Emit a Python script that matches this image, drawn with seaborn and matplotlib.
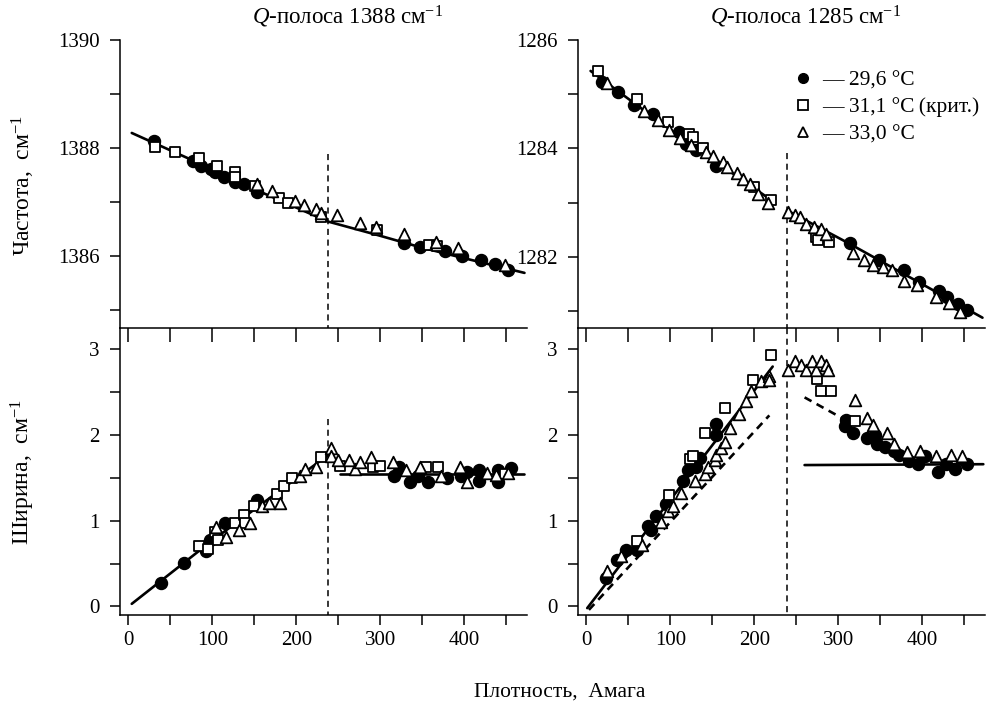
import matplotlib
matplotlib.use("Agg")
import matplotlib.pyplot as plt
import seaborn as sns
from matplotlib.lines import Line2D
from matplotlib.ticker import MultipleLocator

# ================= DATA =================
# --- top left: Q-band 1388, frequency ---
tl_circ_x = [31, 77, 86, 99, 103, 114, 127, 138, 153, 328, 348, 377, 398, 420, 437, 452]
tl_circ_y = [1388.14, 1387.76, 1387.67, 1387.61, 1387.55, 1387.47, 1387.38, 1387.33, 1387.19,
             1386.24, 1386.16, 1386.10, 1386.00, 1385.93, 1385.85, 1385.74]
tl_sq_x = [32, 55, 84, 105, 127, 127, 151, 179, 190, 230, 296, 358, 368]
tl_sq_y = [1388.02, 1387.93, 1387.82, 1387.67, 1387.56, 1387.47, 1387.30, 1387.08, 1386.98,
           1386.72, 1386.48, 1386.20, 1386.18]
tl_tri_x = [153, 171, 199, 209, 223, 230, 248, 276, 295, 329, 367, 393, 449]
tl_tri_y = [1387.33, 1387.21, 1387.02, 1386.94, 1386.87, 1386.80, 1386.77, 1386.62, 1386.54,
            1386.41, 1386.27, 1386.15, 1385.83]
tl_fit_x = [4, 77, 153, 238, 297, 349, 398, 472]
tl_fit_y = [1388.28, 1387.77, 1387.22, 1386.64, 1386.39, 1386.16, 1385.97, 1385.69]

# --- top right: Q-band 1285, frequency ---
tr_circ_x = [19, 38, 57, 79, 110, 119, 131, 155, 314, 349, 378, 396, 420, 430, 443, 454]
tr_circ_y = [1285.23, 1285.05, 1284.80, 1284.63, 1284.31, 1284.09, 1283.98, 1283.68,
             1282.25, 1281.95, 1281.76, 1281.54, 1281.38, 1281.27, 1281.14, 1281.03]
tr_sq_x = [14, 60, 97, 122, 127, 139, 200, 220, 274, 276, 289]
tr_sq_y = [1285.42, 1284.92, 1284.49, 1284.27, 1284.22, 1284.00, 1283.29, 1283.05,
           1282.37, 1282.31, 1282.28]
tr_tri_x = [25, 69, 85, 98, 111, 125, 143, 151, 163, 167, 179, 187, 195, 204, 216,
            240, 248, 254, 262, 271, 280, 286, 318, 331, 342, 354, 364, 379, 394, 417, 432, 445]
tr_tri_y = [1285.21, 1284.69, 1284.52, 1284.35, 1284.20, 1284.06, 1283.94, 1283.86, 1283.75,
            1283.65, 1283.54, 1283.43, 1283.34, 1283.17, 1282.99,
            1282.83, 1282.77, 1282.74, 1282.60, 1282.56, 1282.52, 1282.43, 1282.07, 1281.94,
            1281.85, 1281.81, 1281.76, 1281.56, 1281.48, 1281.27, 1281.16, 1280.99]
tr_fit1_x = [5, 110, 222]
tr_fit1_y = [1285.43, 1284.23, 1283.03]
tr_fit2_x = [239, 314, 472]
tr_fit2_y = [1282.86, 1282.24, 1280.88]

# --- bottom left: Q-band 1388, width ---
bl_circ_x = [39, 66, 92, 97, 115, 153, 317, 322, 335, 345, 357, 380, 396, 404, 418, 418, 441, 441, 456]
bl_circ_y = [0.27, 0.51, 0.65, 0.78, 0.97, 1.24, 1.52, 1.63, 1.45, 1.52, 1.45, 1.50, 1.52,
             1.57, 1.59, 1.46, 1.59, 1.45, 1.62]
bl_sq_x = [84, 95, 103, 107, 127, 138, 139, 150, 177, 185, 195, 230, 252, 291, 300, 355, 369, 449]
bl_sq_y = [0.71, 0.67, 0.87, 0.77, 0.97, 1.07, 0.97, 1.17, 1.31, 1.40, 1.50, 1.74, 1.64,
           1.63, 1.64, 1.63, 1.63, 1.54]
bl_tri_x = [104, 116, 132, 145, 159, 168, 181, 204, 210, 223, 241, 241, 250, 263, 270, 276,
            289, 315, 331, 347, 372, 395, 404, 427, 438, 452]
bl_tri_y = [0.93, 0.81, 0.89, 0.97, 1.17, 1.21, 1.21, 1.52, 1.60, 1.63, 1.85, 1.75, 1.71,
            1.71, 1.60, 1.68, 1.74, 1.68, 1.59, 1.63, 1.52, 1.63, 1.45, 1.56, 1.53, 1.56]
bl_fit1_x = [4, 100, 237]
bl_fit1_y = [0.03, 0.77, 1.76]
bl_fit2_x = [252, 472]
bl_fit2_y = [1.54, 1.54]

# --- bottom right: Q-band 1285, width ---
br_circ_x = [23, 37, 47, 60, 74, 77, 83, 95, 115, 121, 125, 131, 135, 155, 155,
             309, 308, 318, 334, 344, 346, 356, 366, 372, 384, 395, 403, 419, 429, 439, 453]
br_circ_y = [0.33, 0.54, 0.66, 0.66, 0.94, 0.89, 1.06, 1.19, 1.46, 1.59, 1.63, 1.63, 1.73,
             2.13, 2.00, 2.18, 2.11, 2.02, 1.97, 2.00, 1.90, 1.86, 1.81, 1.77, 1.70, 1.66,
             1.75, 1.57, 1.66, 1.60, 1.66]
br_sq_x = [60, 98, 123, 127, 141, 165, 199, 220, 275, 280, 291, 320]
br_sq_y = [0.76, 1.30, 1.72, 1.75, 2.02, 2.32, 2.64, 2.93, 2.66, 2.51, 2.52, 2.17]
br_tri_x = [24, 41, 66, 89, 97, 103, 113, 129, 141, 145, 153, 155, 161, 165, 171, 182, 190,
            196, 208, 218, 218, 240, 248, 256, 262, 269, 274, 280, 286, 288,
            320, 334, 342, 358, 366, 382, 397, 417, 435, 447]
br_tri_y = [0.41, 0.59, 0.72, 0.98, 1.11, 1.17, 1.32, 1.46, 1.55, 1.63, 1.71, 1.77, 1.85,
            1.92, 2.08, 2.25, 2.40, 2.51, 2.63, 2.69, 2.64, 2.76, 2.86, 2.82, 2.76, 2.87,
            2.76, 2.86, 2.82, 2.76, 2.41, 2.20, 2.12, 2.02, 1.90, 1.80, 1.81, 1.75, 1.77, 1.76]
br_fit1_x = [1, 222]
br_fit1_y = [-0.02, 2.80]
br_dash1_x = [3, 218]
br_dash1_y = [-0.04, 2.23]
br_dash2_x = [260, 308]
br_dash2_y = [2.44, 2.18]
br_fit2_x = [260, 473]
br_fit2_y = [1.65, 1.66]

crit_x = [237.5, 239.4]   # vertical dashed marker (critical density)

titles = ["$\\mathit{Q}$-полоса 1388 см$^{-1}$", "$\\mathit{Q}$-полоса 1285 см$^{-1}$"]
legend_labels = ["— 29,6 °C", "— 31,1 °C\u2009(крит.)", "— 33,0 °C"]
# ==============================================================

sns.set_theme(style="ticks")
plt.rcParams['font.family'] = ['Liberation Serif', 'DejaVu Serif']
plt.rcParams['mathtext.fontset'] = 'custom'
plt.rcParams['mathtext.rm'] = 'Liberation Serif'
plt.rcParams['mathtext.it'] = 'Liberation Serif:italic'
for key in ['text.color', 'axes.labelcolor', 'xtick.color', 'ytick.color', 'axes.edgecolor']:
    plt.rcParams[key] = 'black'

FS_TICK = 15
FS_TITLE = 16.5
FS_YLAB = 17
FS_XLAB = 15.5
FS_LEG = 15.5

fig = plt.figure(figsize=(10, 7.16), dpi=100)
ax_tl = fig.add_axes([0.120, 0.5419, 0.407, 0.4022])
ax_bl = fig.add_axes([0.120, 0.1411, 0.407, 0.4008])
ax_tr = fig.add_axes([0.578, 0.5419, 0.407, 0.4022])
ax_br = fig.add_axes([0.578, 0.1411, 0.407, 0.4008])


def points(ax, xs, ys, kind):
    if kind == 'circ':
        sns.scatterplot(x=xs, y=ys, ax=ax, marker='o', s=75, color='black',
                        edgecolor='black', linewidth=1.0, zorder=3)
    elif kind == 'sq':
        sns.scatterplot(x=xs, y=ys, ax=ax, marker='s', s=62, color='white',
                        edgecolor='black', linewidth=1.3, zorder=3)
    else:
        sns.scatterplot(x=xs, y=ys, ax=ax, marker='^', s=70, color='white',
                        edgecolor='black', linewidth=1.3, zorder=3)


def fit(ax, xs, ys, dashed=False):
    ls = (0, (3, 2.2)) if dashed else '-'
    sns.lineplot(x=xs, y=ys, ax=ax, color='black', lw=1.9, linestyle=ls,
                 sort=False, estimator=None, zorder=2)


# top left
fit(ax_tl, tl_fit_x, tl_fit_y)
points(ax_tl, tl_circ_x, tl_circ_y, 'circ')
points(ax_tl, tl_sq_x, tl_sq_y, 'sq')
points(ax_tl, tl_tri_x, tl_tri_y, 'tri')
ax_tl.plot([crit_x[0]] * 2, [1387.89, 1384.67], color='black', lw=1.1, ls=(0, (4, 3)))
ax_tl.set_ylim(1384.67, 1390)

# top right
fit(ax_tr, tr_fit1_x, tr_fit1_y)
fit(ax_tr, tr_fit2_x, tr_fit2_y)
points(ax_tr, tr_circ_x, tr_circ_y, 'circ')
points(ax_tr, tr_sq_x, tr_sq_y, 'sq')
points(ax_tr, tr_tri_x, tr_tri_y, 'tri')
ax_tr.plot([crit_x[1]] * 2, [1283.91, 1280.69], color='black', lw=1.1, ls=(0, (4, 3)))
ax_tr.set_ylim(1280.69, 1286)

# bottom left
fit(ax_bl, bl_fit1_x, bl_fit1_y)
fit(ax_bl, bl_fit2_x, bl_fit2_y)
points(ax_bl, bl_circ_x, bl_circ_y, 'circ')
points(ax_bl, bl_sq_x, bl_sq_y, 'sq')
points(ax_bl, bl_tri_x, bl_tri_y, 'tri')
ax_bl.plot([crit_x[0]] * 2, [2.19, -0.1], color='black', lw=1.1, ls=(0, (4, 3)))

# bottom right
fit(ax_br, br_fit1_x, br_fit1_y)
fit(ax_br, br_fit2_x, br_fit2_y)
fit(ax_br, br_dash1_x, br_dash1_y, dashed=True)
fit(ax_br, br_dash2_x, br_dash2_y, dashed=True)
points(ax_br, br_circ_x, br_circ_y, 'circ')
points(ax_br, br_sq_x, br_sq_y, 'sq')
points(ax_br, br_tri_x, br_tri_y, 'tri')
ax_br.plot([crit_x[1]] * 2, [3.25, -0.1], color='black', lw=1.1, ls=(0, (4, 3)))

for ax in (ax_tl, ax_tr):
    ax.set_xlim(-10, 475)
    ax.yaxis.set_major_locator(MultipleLocator(2))
    ax.yaxis.set_minor_locator(MultipleLocator(1))
    ax.xaxis.set_major_locator(MultipleLocator(50))
    ax.tick_params(axis='y', which='both', direction='out', length=7.5, width=1.1,
                   labelsize=FS_TICK, pad=7)
    ax.tick_params(axis='x', which='both', direction='out', length=10, width=1.1,
                   labelbottom=False)
    ax.yaxis.set_major_formatter(matplotlib.ticker.FormatStrFormatter('%d'))
    for side in ('top', 'right', 'bottom'):
        ax.spines[side].set_visible(False)
    ax.spines['left'].set_linewidth(1.1)

for ax in (ax_bl, ax_br):
    ax.set_xlim(-10, 475)
    ax.set_ylim(-0.1, 3.25)
    ax.xaxis.set_major_locator(MultipleLocator(100))
    ax.xaxis.set_minor_locator(MultipleLocator(50))
    ax.yaxis.set_major_locator(MultipleLocator(1))
    ax.yaxis.set_minor_locator(MultipleLocator(0.5))
    ax.tick_params(axis='both', which='both', direction='out', length=7.5, width=1.1,
                   labelsize=FS_TICK)
    ax.tick_params(axis='y', pad=7)
    ax.tick_params(axis='x', pad=4)
    ax.spines['right'].set_visible(False)
    for side in ('top', 'left', 'bottom'):
        ax.spines[side].set_linewidth(1.1)

for ax in (ax_tl, ax_tr, ax_bl, ax_br):
    ax.set_xlabel('')
    ax.set_ylabel('')
    ax.set_facecolor('none')

# legend
handles = [
    Line2D([], [], ls='none', marker='o', ms=7, mfc='black', mec='black'),
    Line2D([], [], ls='none', marker='s', ms=6.5, mfc='white', mec='black', mew=1.3),
    Line2D([], [], ls='none', marker='^', ms=7, mfc='white', mec='black', mew=1.3),
]
ax_tr.legend(handles, legend_labels, loc='upper left', bbox_to_anchor=(0.786, 0.917),
             bbox_transform=fig.transFigure, frameon=False, fontsize=FS_LEG,
             handlelength=0.6, handletextpad=0.6, labelspacing=0.33, borderpad=0)

fig.text(0.348, 1 - 17 / 716, titles[0], ha='center', va='center', fontsize=FS_TITLE)
fig.text(0.806, 1 - 17 / 716, titles[1], ha='center', va='center', fontsize=FS_TITLE)
fig.text(0.023, 1 - 185 / 716, 'Частота,  см$^{-1}$', rotation=90, ha='center',
         va='center', fontsize=FS_YLAB)
fig.text(0.023, 1 - 472 / 716, 'Ширина,  см$^{-1}$', rotation=90, ha='center',
         va='center', fontsize=FS_YLAB)
fig.text(0.560, 1 - 692 / 716, 'Плотность,  Амага', ha='center', va='center', fontsize=FS_XLAB)

fig.savefig('out.png', dpi=100, facecolor='white')
